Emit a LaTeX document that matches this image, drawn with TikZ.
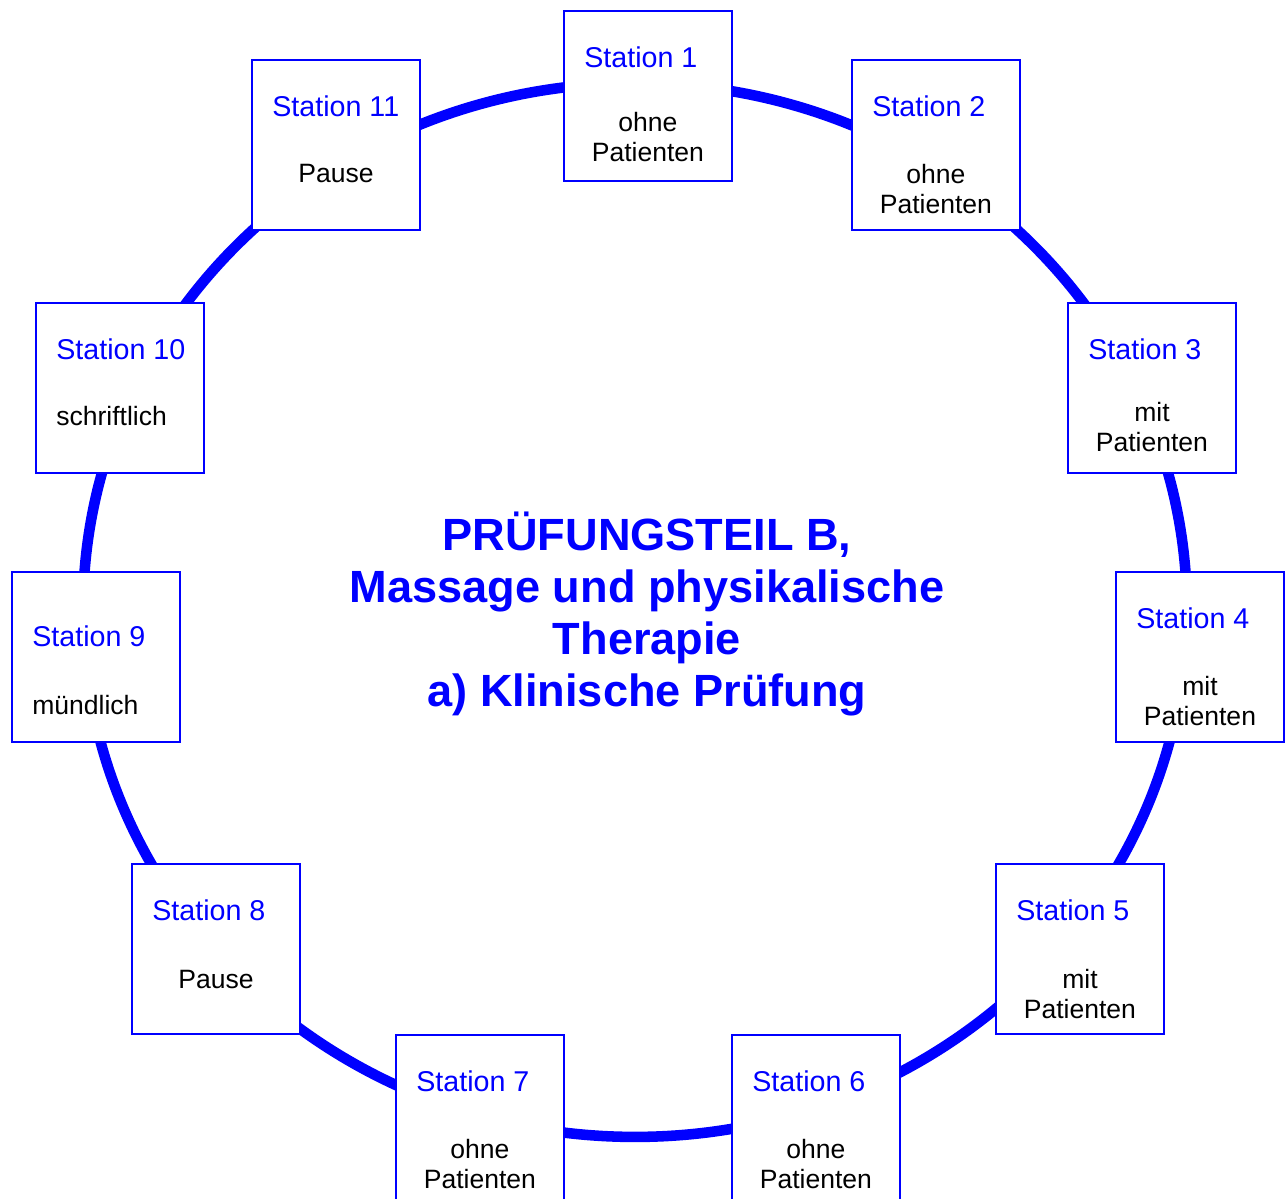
\documentclass[tikz,border=0pt]{standalone}
\usepackage{fontspec}
\setmainfont{Liberation Sans}
\usepackage{xcolor}
\usetikzlibrary{positioning, calc}
\definecolor{ringblue}{RGB}{0, 0, 255}

\tikzset{
    stationbox/.style={draw=ringblue, line width=1.1pt, fill=white, anchor=north west,
        minimum width=3.36cm, minimum height=3.4cm, inner sep=0pt},
    stationlabel/.style={text=ringblue, anchor=north west, inner sep=0pt,
        font=\fontsize{16.3}{18}\selectfont},
    stationtext/.style={text=black, anchor=north, inner sep=0pt, align=center,
        font=\fontsize{15.1}{17.3}\selectfont},
    ring/.style={draw=ringblue, line width=6pt},
    titletext/.style={text=ringblue, align=center, inner sep=0pt,
        font=\fontsize{25.7}{29.5}\selectfont\bfseries}
}

\begin{document}
\begin{tikzpicture}[x=0.02cm, y=-0.02cm]
    \useasboundingbox (0,0) rectangle (1288,1198);

    % The ring
    \draw[ring] (635,610) ellipse [x radius=11.04cm, y radius=10.54cm];

    % The stations
    \foreach \n/\x/\y/\dy in {1/563/10/36, 2/851/59/36, 3/1067/302/36, 4/1115/571/36,
                              5/995/863/36, 6/731/1034/36, 7/395/1034/36, 8/131/863/36,
                              9/11/571/54, 10/35/302/36, 11/251/59/36} {
        \node[stationbox] (s\n) at (\x,\y) {};
        \node[stationlabel] (l\n) at ($(s\n.north west)+(21,\dy)$) {Station \n};
    }

    % Station contents
    \node[stationtext] (t1) at ($(s1.north)+(0,102)$) {ohne\\Patienten};
    \node[stationtext] (t2) at ($(s2.north)+(0,105)$) {ohne\\Patienten};
    \node[stationtext] (t3) at ($(s3.north)+(0,100)$) {mit\\Patienten};
    \node[stationtext] (t4) at ($(s4.north)+(0,105)$) {mit\\Patienten};
    \node[stationtext] (t5) at ($(s5.north)+(0,106)$) {mit\\Patienten};
    \node[stationtext] (t6) at ($(s6.north)+(0,105)$) {ohne\\Patienten};
    \node[stationtext] (t7) at ($(s7.north)+(0,105)$) {ohne\\Patienten};
    \node[stationtext] (t8) at ($(s8.north)+(0,107)$) {Pause};
    \node[stationtext, anchor=north west] (t9) at ($(s9.north west)+(21,124)$) {mündlich};
    \node[stationtext, anchor=north west] (t10) at ($(s10.north west)+(21,104)$) {schriftlich};
    \node[stationtext] (t11) at ($(s11.north)+(0,105)$) {Pause};

    % Title
    \node[titletext] (title) at (647,614) {PRÜFUNGSTEIL B,\\Massage und physikalische\\Therapie\\a) Klinische Prüfung};
\end{tikzpicture}
\end{document}
